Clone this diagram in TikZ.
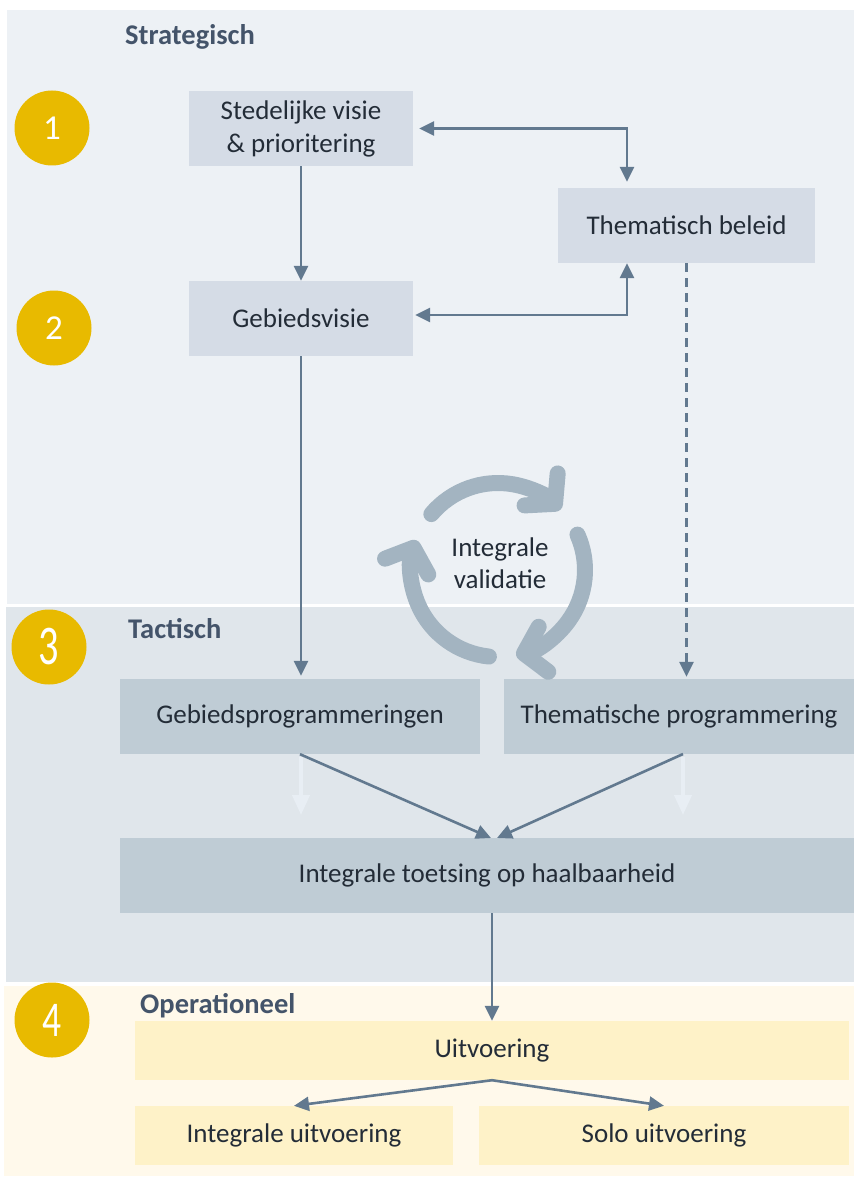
\documentclass[tikz,border=0pt]{standalone}
\usepackage{fontspec}
\setmainfont{Carlito}
\usetikzlibrary{arrows.meta,calc}
\definecolor{stratbg}{HTML}{EDF1F5}
\definecolor{tactbg}{HTML}{E0E6EB}
\definecolor{opbg}{HTML}{FFF9EB}
\definecolor{sbox}{HTML}{D5DCE6}
\definecolor{tbox}{HTML}{BFCCD5}
\definecolor{obox}{HTML}{FEF2C8}
\definecolor{gold}{HTML}{E8BA00}
\definecolor{headc}{HTML}{44546A}
\definecolor{txtc}{HTML}{232C37}
\definecolor{arrc}{HTML}{62798F}
\definecolor{cycc}{HTML}{A3B4C1}
\definecolor{faint}{HTML}{E8EEF4}
\begin{document}
\begin{tikzpicture}[x=1pt,y=-1pt,
  boxtext/.style={font=\fontsize{27}{33}\selectfont, text=txtc, align=center, inner sep=0pt},
  sbx/.style={boxtext, fill=sbox},
  tbx/.style={boxtext, fill=tbox},
  obx/.style={boxtext, fill=obox},
  numc/.style={circle, fill=gold, minimum size=75pt, inner sep=0pt, text=white},
  heading/.style={font=\fontsize{28.5}{30}\selectfont\bfseries, text=headc, anchor=base west, inner sep=0pt},
  arr/.style={draw=arrc, line width=2.6pt, -{Triangle[length=15pt,width=14pt]}},
  arrtwo/.style={draw=arrc, line width=2.6pt, {Triangle[length=15pt,width=14pt]}-{Triangle[length=15pt,width=14pt]}},
  farr/.style={draw=faint, line width=4pt, -{Triangle[length=20pt,width=17pt]}},
  cyc/.style={draw=cycc, line width=16pt, line cap=round, -{Straight Barb[length=20pt,width=46pt,line cap=round,line join=round]}}
]
\useasboundingbox (0,0) rectangle (854,1177);
\fill[white] (0,0) rectangle (854,1177);
% panels
\fill[stratbg] (7,10) rectangle (854,604);
\fill[tactbg] (6,607) rectangle (854,982);
\fill[opbg] (4,986) rectangle (854,1176);

% headings
\node[heading] (hs) at (125,45) {Strategisch};
\node[heading] (ht) at (128,638) {Tactisch};
\node[heading] (ho) at (140,1013) {Operationeel};

% numbered circles
\node[numc, font=\fontsize{35}{35}\selectfont] (n1) at (52,128) {1};
\node[numc, font=\fontsize{35}{35}\selectfont] (n2) at (54,328) {2};
\node[numc, font=\fontsize{56}{56}\selectfont] (n3) at (49,647) {\scalebox{0.72}[1]{3}};
\node[numc, font=\fontsize{50}{50}\selectfont] (n4) at (52,1020) {\scalebox{0.75}[1]{4}};

% boxes
\node[sbx, minimum width=224pt, minimum height=75pt] (sv) at (301,128.5) {Stedelijke visie\\\& prioritering};
\node[sbx, minimum width=257pt, minimum height=75pt] (tb) at (686.5,225.5) {Thematisch beleid};
\node[sbx, minimum width=224pt, minimum height=75pt] (gv) at (301,318.5) {Gebiedsvisie};
\node[tbx, minimum width=360pt, minimum height=75pt] (gp) at (300,716.5) {Gebiedsprogrammeringen};
\node[tbx, minimum width=350pt, minimum height=75pt] (tp) at (679,716.5) {Thematische programmering};
\node[tbx, minimum width=734pt, minimum height=75pt] (it) at (487,875.5) {Integrale toetsing op haalbaarheid};
\node[obx, minimum width=714pt, minimum height=59pt] (uv) at (492,1050.5) {Uitvoering};
\node[obx, minimum width=318pt, minimum height=59pt] (iu) at (294,1135.5) {Integrale uitvoering};
\node[obx, minimum width=370pt, minimum height=59pt] (su) at (664,1135.5) {Solo uitvoering};

% cycle
\coordinate (cc) at (498,570);
\draw[cyc] ($(cc)+(-140:87)$) arc[start angle=-140, end angle=-44, radius=87];
\draw[cyc] ($(cc)+(-24:87)$) arc[start angle=-24, end angle=78, radius=87];
\draw[cyc] ($(cc)+(96:87)$) arc[start angle=96, end angle=200, radius=87];
\node[boxtext, font=\fontsize{27}{32}\selectfont] (iv) at (500,563) {Integrale\\validatie};

% connectors
\draw[arr] (sv) -- (gv);
\coordinate (c1) at (627,128.5);
\draw[arrtwo, shorten <=6pt, shorten >=6pt] (sv.east) -- (c1) -- (c1 |- tb.north);
\coordinate (c2) at (627,315);
\draw[arrtwo, shorten <=2pt] (gv.east |- c2) -- (c2) -- (c2 |- tb.south);
\draw[arr, shorten >=3pt] (gv.south) -- (gv.south |- gp.north);
\draw[arr, dashed, dash pattern=on 9pt off 6pt, shorten >=2pt] (tb.south) -- (tb.south |- tp.north);

\coordinate (f1s) at (301,757);
\coordinate (f1e) at (301,815);
\coordinate (f2s) at (683,757);
\coordinate (f2e) at (683,815);
\draw[farr] (f1s) -- (f1e);
\draw[farr] (f2s) -- (f2e);

\coordinate (e1) at (491,838);
\coordinate (e2) at (497,838);
\coordinate (s2) at (683,754);
\draw[arr] (gp.south) -- (e1);
\draw[arr] (s2) -- (e2);

\draw[arr] (uv.north |- it.south) -- (uv.north);
\draw[arr] (uv.south) -- (iu.north);
\draw[arr] (uv.south) -- (su.north);
\end{tikzpicture}
\end{document}
